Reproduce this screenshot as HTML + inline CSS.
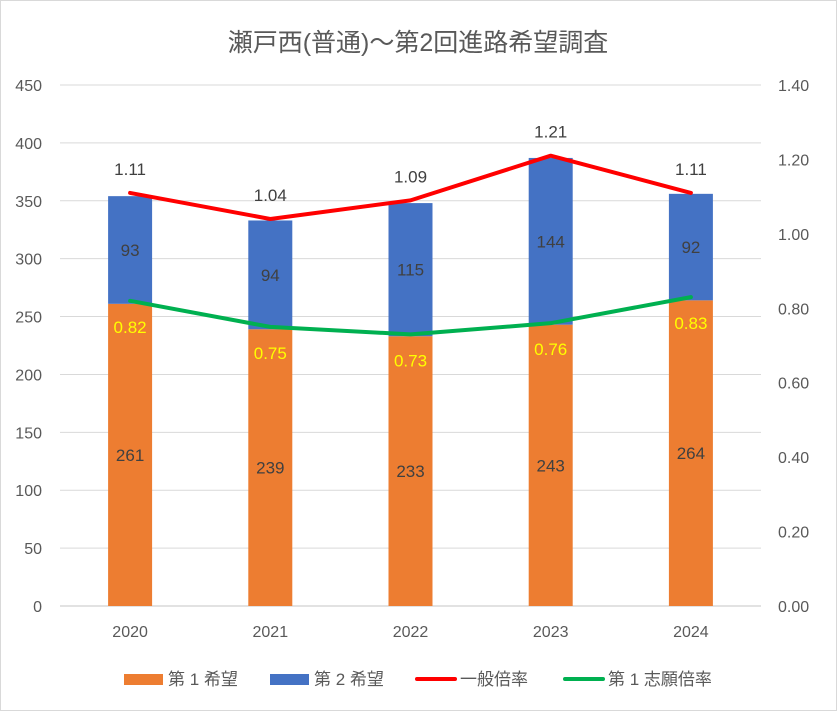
<!DOCTYPE html>
<html><head><meta charset="utf-8"><style>
body{margin:0;background:#fff}
svg text{font-family:"Liberation Sans","Noto Sans CJK JP",sans-serif}
</style></head><body>
<svg width="837" height="711" viewBox="0 0 837 711" xmlns="http://www.w3.org/2000/svg">
<rect x="0.5" y="0.5" width="836" height="710" fill="#fff" stroke="#d9d9d9"/>
<text x="418" y="51" text-anchor="middle" font-size="25" fill="#595959">瀬戸西(普通)～第2回進路希望調査</text>
<g id="grid"></g><g id="bars"></g><g id="lines"></g><g id="labels"></g>
<g>
<rect x="124" y="674" width="39" height="11" fill="#ED7D31"/>
<text x="168" y="685" font-size="17" fill="#595959">第 1 希望</text>
<rect x="270" y="674" width="39" height="11" fill="#4472C4"/>
<text x="314" y="685" font-size="17" fill="#595959">第 2 希望</text>
<line x1="417" y1="679" x2="455" y2="679" stroke="#FF0000" stroke-width="4" stroke-linecap="round"/>
<text x="460" y="685" font-size="17" fill="#595959">一般倍率</text>
<line x1="565" y1="679" x2="603" y2="679" stroke="#00B050" stroke-width="4" stroke-linecap="round"/>
<text x="608" y="685" font-size="17" fill="#595959">第 1 志願倍率</text>
</g>
</svg>
<script>
const years=["2020","2021","2022","2023","2024"];
const first=[261,239,233,243,264];
const second=[93,94,115,144,92];
const generalRatio=[1.11,1.04,1.09,1.21,1.11];
const firstRatio=[0.82,0.75,0.73,0.76,0.83];
const leftTicks=[0,50,100,150,200,250,300,350,400,450];
const rightTicks=["0.00","0.20","0.40","0.60","0.80","1.00","1.20","1.40"];
const NS="http://www.w3.org/2000/svg";
const X0=60,X1=761,Y0=606,Y1=85;
const yL=v=>Y0-(v/450)*(Y0-Y1);
const yR=v=>Y0-(v/1.4)*(Y0-Y1);
const bw=(X1-X0)/years.length;
const xc=i=>X0+bw*(i+0.5);
function mk(tag,attrs,parent){const e=document.createElementNS(NS,tag);for(const k in attrs)e.setAttribute(k,attrs[k]);parent.appendChild(e);return e;}
const grid=document.getElementById('grid'),bars=document.getElementById('bars'),lines=document.getElementById('lines'),labels=document.getElementById('labels');
leftTicks.forEach(t=>{
 const l=mk('line',{x1:X0,x2:X1,y1:yL(t),y2:yL(t),stroke:'#d9d9d9','stroke-width':t===0?1.5:1},grid);
 
 
 const tx=mk('text',{x:42,y:yL(t)+6,'text-anchor':'end','font-size':16,fill:'#595959'},grid);tx.textContent=t;
 
 
});
rightTicks.forEach(t=>{
 const tx=mk('text',{x:778,y:yR(+t)+6,'font-size':16,fill:'#595959'},grid);tx.textContent=t;
 
 
});
years.forEach((y,i)=>{
 const x=xc(i)-22;
 const b1=mk('rect',{x:x,y:yL(first[i]),width:44,height:Y0-yL(first[i]),fill:'#ED7D31'},bars);
 
 
 const b2=mk('rect',{x:x,y:yL(first[i]+second[i]),width:44,height:yL(first[i])-yL(first[i]+second[i]),fill:'#4472C4'},bars);
 
 
 const xl=mk('text',{x:xc(i),y:637,'text-anchor':'middle','font-size':16,fill:'#595959'},labels);xl.textContent=y;
 
 
 const l1=mk('text',{x:xc(i),y:(yL(first[i])+Y0)/2+6,'text-anchor':'middle','font-size':17,fill:'#404040'},labels);l1.textContent=first[i];
 
 
 const l2=mk('text',{x:xc(i),y:(yL(first[i])+yL(first[i]+second[i]))/2+6,'text-anchor':'middle','font-size':17,fill:'#404040'},labels);l2.textContent=second[i];
 
 
 const l3=mk('text',{x:xc(i),y:yR(generalRatio[i])-18,'text-anchor':'middle','font-size':17,fill:'#404040'},labels);l3.textContent=generalRatio[i].toFixed(2);
 
 
 const l4=mk('text',{x:xc(i),y:yR(firstRatio[i])+32,'text-anchor':'middle','font-size':17,fill:'#FFFF00'},labels);l4.textContent=firstRatio[i].toFixed(2);
 
 
});
function path(arr){return arr.map((v,i)=>(i?'L':'M')+xc(i)+','+yR(v)).join(' ');}
const p1=mk('path',{d:path(generalRatio),fill:'none',stroke:'#FF0000','stroke-width':4,'stroke-linejoin':'round','stroke-linecap':'round'},lines);


const p2=mk('path',{d:path(firstRatio),fill:'none',stroke:'#00B050','stroke-width':4,'stroke-linejoin':'round','stroke-linecap':'round'},lines);


</script>
</body></html>
